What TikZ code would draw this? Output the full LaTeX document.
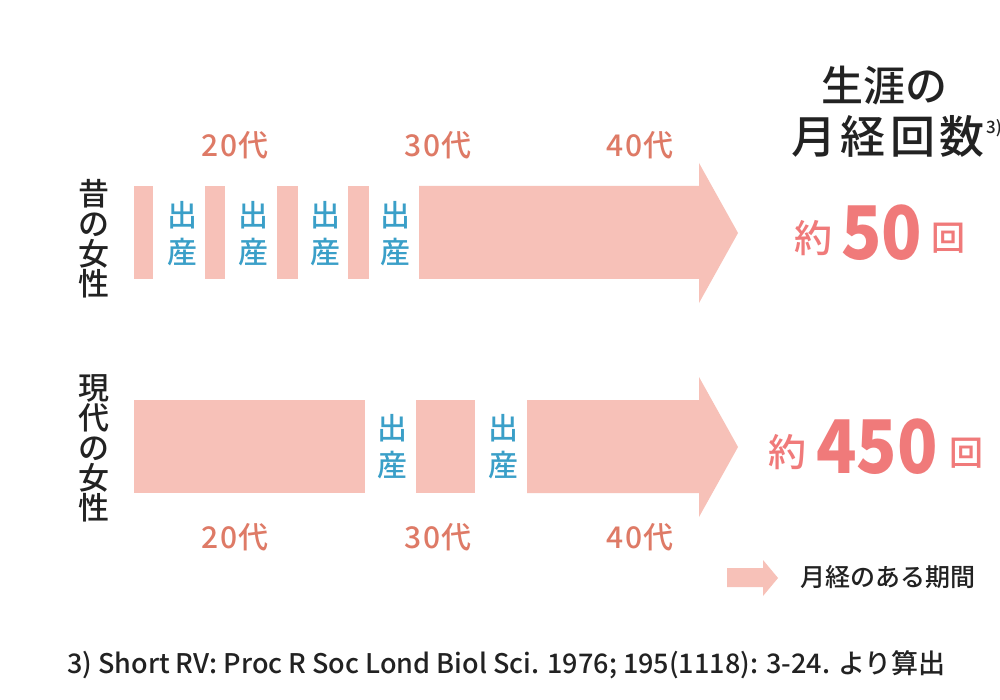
\documentclass[tikz,border=0pt]{standalone}
\usepackage{fontspec}
\setmainfont{Noto Sans CJK JP}
\newfontfamily\jp{Noto Sans CJK JP Medium}
\newfontfamily\jpbold{Noto Sans CJK JP Black}
\definecolor{barc}{HTML}{F7C1B8}
\definecolor{birthc}{HTML}{3A9FC8}
\definecolor{decc}{HTML}{DE7A66}
\definecolor{numc}{HTML}{F07A7A}
\definecolor{darkc}{HTML}{222222}
\begin{document}
\begin{tikzpicture}[x=1pt,y=-1pt,
  bar/.style={fill=barc},
  birth/.style={text=birthc,font=\jp\fontsize{30}{37}\selectfont,align=center,inner sep=0pt},
  dec/.style={text=decc,font=\jp\addfontfeature{LetterSpace=6}\fontsize{30}{30}\selectfont,inner sep=0pt},
  vlabel/.style={text=darkc,font=\jp\fontsize{31}{30}\selectfont,align=center,inner sep=0pt},
  head/.style={text=darkc,font=\jp\fontsize{42}{42}\selectfont,inner sep=0pt},
  yaku/.style={text=numc,font=\jp\fontsize{38}{38}\selectfont,inner sep=0pt},
  bignum/.style={text=numc,font=\jpbold\fontsize{74}{74}\selectfont,inner sep=0pt},
  kai/.style={text=numc,font=\jp\fontsize{34}{34}\selectfont,inner sep=0pt}]
\useasboundingbox (0,0) rectangle (1000,700);
\fill[white] (0,0) rectangle (1000,700);
% top row
\fill[bar] (134,186) rectangle (153,279);
\fill[bar] (205,186) rectangle (225,279);
\fill[bar] (277,186) rectangle (298,279);
\fill[bar] (348,186) rectangle (369,279);
\fill[bar] (419,186) -- (699,186) -- (699,163) -- (738,233) -- (699,303) -- (699,279) -- (419,279) -- cycle;
% bottom row
\fill[bar] (134,400) rectangle (365,493);
\fill[bar] (416,400) rectangle (475,493);
\fill[bar] (527,400) -- (699,400) -- (699,377) -- (738,447) -- (699,517) -- (699,493) -- (527,493) -- cycle;
% legend arrow
\fill[bar] (727,568) -- (763,568) -- (763,560) -- (778,578) -- (763,596) -- (763,587) -- (727,587) -- cycle;

% labels left
\node[vlabel] (old) at (94,239) {昔\\の\\女\\性};
\node[vlabel] (mod) at (94,448) {現\\代\\の\\女\\性};

% births top
\node[birth] (b1) at (182,234) {出\\産};
\node[birth] (b2) at (253,234) {出\\産};
\node[birth] (b3) at (325,234) {出\\産};
\node[birth] (b4) at (395,234) {出\\産};
% births bottom
\node[birth] (b5) at (392,447) {出\\産};
\node[birth] (b6) at (503,447) {出\\産};

% decades
\node[dec] (t20) at (235,145) {20代};
\node[dec] (t30) at (438,145) {30代};
\node[dec] (t40) at (640,145) {40代};
\node[dec] (u20) at (235,537) {20代};
\node[dec] (u30) at (438,537) {30代};
\node[dec] (u40) at (640,537) {40代};

% heading
\node[head] (h1) at (884,86) {生涯の};
\node[text=darkc,font=\jp\addfontfeature{LetterSpace=10}\fontsize{45}{45}\selectfont,inner sep=0pt,anchor=east] (h2) at (985,136) {月経回数};
\node[text=darkc,font=\jp\fontsize{17}{17}\selectfont,inner sep=0pt,anchor=west] (h3) at (986,128) {3)};

% counts
\node[yaku,anchor=west] (y1) at (794,238) {約};
\node[bignum,anchor=west] (n1) at (841,233) {\scalebox{0.9}[1]{50}};
\node[kai,anchor=west] (k1) at (931,238) {回};
\node[yaku,anchor=west] (y2) at (768,452) {約};
\node[bignum,anchor=west] (n2) at (816,447) {\scalebox{0.9}[1]{450}};
\node[kai,anchor=west] (k2) at (949,453) {回};

% legend
\node[text=darkc,font=\jp\fontsize{25}{25}\selectfont,inner sep=0pt,anchor=west] (leg) at (800,577) {月経のある期間};

% footnote
\node[text=darkc,font=\jp\fontsize{27}{27}\selectfont,inner sep=0pt,anchor=west] (fn) at (67,665) {3) Short RV: Proc R Soc Lond Biol Sci. 1976; 195(1118): 3-24. より算出};
\end{tikzpicture}
\end{document}
